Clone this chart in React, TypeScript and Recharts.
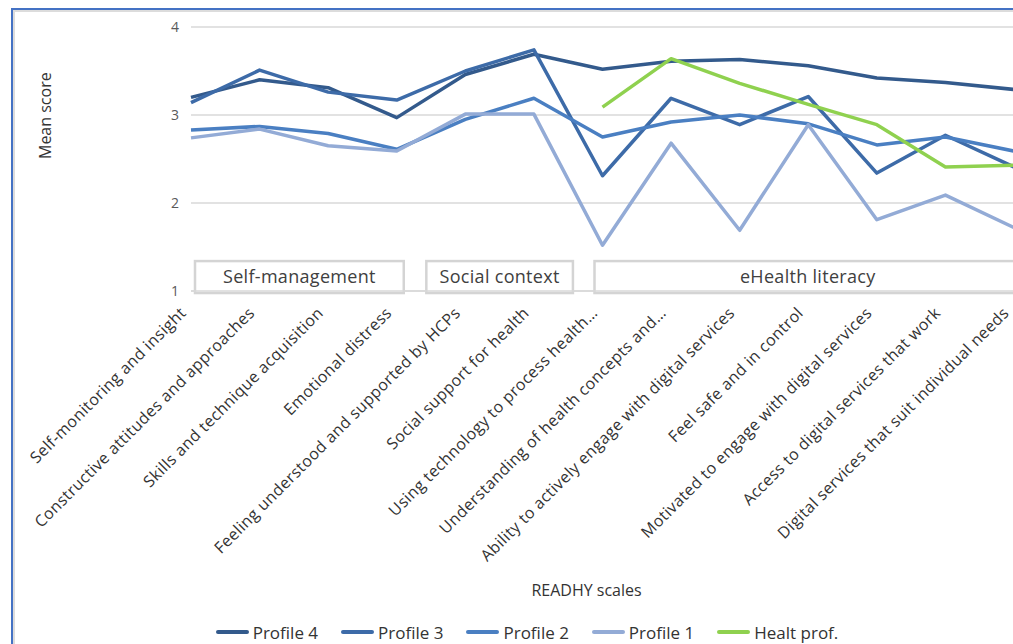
import { LineChart, Line, XAxis, YAxis, CartesianGrid, Legend, ReferenceArea } from 'recharts';

const SCALES = [
  'Self-monitoring and insight',
  'Constructive attitudes and approaches',
  'Skills and technique acquisition',
  'Emotional distress',
  'Feeling understood and supported by HCPs',
  'Social support for health',
  'Using technology to process health…',
  'Understanding of health concepts and…',
  'Ability to actively engage with digital services',
  'Feel safe and in control',
  'Motivated to engage with digital services',
  'Access to digital services that work',
  'Digital services that suit individual needs',
];

const PROFILE_4 = [3.2, 3.4, 3.31, 2.97, 3.46, 3.69, 3.52, 3.61, 3.63, 3.56, 3.42, 3.37, 3.29];
const PROFILE_3 = [3.14, 3.51, 3.26, 3.17, 3.5, 3.74, 2.31, 3.19, 2.89, 3.21, 2.34, 2.77, 2.41];
const PROFILE_2 = [2.83, 2.87, 2.79, 2.61, 2.95, 3.19, 2.75, 2.92, 3.0, 2.9, 2.66, 2.75, 2.59];
const PROFILE_1 = [2.74, 2.84, 2.65, 2.59, 3.01, 3.01, 1.52, 2.68, 1.69, 2.89, 1.81, 2.09, 1.72];
const HEALT_PROF = [null, null, null, null, null, null, 3.09, 3.64, 3.36, 3.12, 2.89, 2.41, 2.43];

const Y_TICKS = [1, 2, 3, 4];

const GROUPS = [
  { label: 'Self-management', from: 0, to: 3 },
  { label: 'Social context', from: 4, to: 5 },
  { label: 'eHealth literacy', from: 6, to: 12 },
];

// box edges relative to the first/last category point
const GROUP_PAD = [
  { l: 4, r: 7 },
  { l: -39, r: 39 },
  { l: -8, r: 7 },
];

const SERIES = [
  { key: 'Profile 4', color: '#335a8c' },
  { key: 'Profile 3', color: '#3d6ba8' },
  { key: 'Profile 2', color: '#4a7fc2' },
  { key: 'Profile 1', color: '#93abd6' },
  { key: 'Healt prof.', color: '#8fd14f' },
];

const data = SCALES.map((s, i) => ({
  scale: s,
  'Profile 4': PROFILE_4[i],
  'Profile 3': PROFILE_3[i],
  'Profile 2': PROFILE_2[i],
  'Profile 1': PROFILE_1[i],
  'Healt prof.': HEALT_PROF[i],
}));

const FONT = '"Open Sans", sans-serif';

function XTick({ x, y, payload }: any) {
  return (
    <text
      transform={`translate(${x - 4},${y + 21}) rotate(-45)`}
      textAnchor="end"
      fontSize={16}
      letterSpacing={0.4}
      fontFamily={FONT}
      fill="#333"
    >
      {payload.value}
    </text>
  );
}

function groupShape(idx: number) {
  return (props: any) => {
    const { x, y, width, height } = props;
    const p = GROUP_PAD[idx];
    const left = x + p.l;
    const right = x + width + p.r;
    return (
      <g>
        <rect x={left} y={y} width={right - left} height={height} fill="#fff" stroke="#d4d4d4" strokeWidth={2.5} />
        <text
          x={(left + right) / 2}
          y={y + height / 2 + 6}
          textAnchor="middle"
          fontSize={18}
          letterSpacing={0.3}
          fontFamily={FONT}
          fill="#404040"
        >
          {GROUPS[idx].label}
        </text>
      </g>
    );
  };
}

function LegendContent() {
  return (
    <div style={{ display: 'flex', justifyContent: 'center', gap: 23, height: 24, alignItems: 'center', paddingLeft: 6 }}>
      {SERIES.map(s => (
        <div key={s.key} style={{ display: 'flex', alignItems: 'center', gap: 4 }}>
          <span style={{ width: 33, height: 4, borderRadius: 2, background: s.color, display: 'inline-block' }} />
          <span style={{ fontSize: 17, color: '#333', fontFamily: FONT }}>{s.key}</span>
        </div>
      ))}
    </div>
  );
}

export default function App() {
  return (
    <div style={{ position: 'absolute', left: 0, top: 0, width: 1013, height: 644, overflow: 'hidden', background: '#fff' }}>
      <div style={{
        position: 'absolute', left: 11, top: 8, width: 1100, height: 700,
        borderLeft: '2px solid #4472c4', borderTop: '2px solid #4472c4',
        boxShadow: 'inset 2px 2px 0 #dcdcdc',
      }} />
      <div style={{ position: 'absolute', left: 0, top: 0 }}>
        <LineChart width={1062} height={644} data={data} margin={{ top: 27, right: 14, left: 0, bottom: 0 }}>
          <CartesianGrid horizontal vertical={false} stroke="#d9d9d9" strokeWidth={1.5} />
          <XAxis
            dataKey="scale"
            interval={0}
            height={329}
            padding={{ left: 0, right: 34 }}
            tick={<XTick />}
            tickLine={false}
            tickSize={0}
            axisLine={{ stroke: '#d9d9d9', strokeWidth: 1.5 }}
            label={{ value: 'READHY scales', position: 'insideBottom', offset: 24, dx: -33, fontSize: 16, fill: '#333', fontFamily: FONT }}
          />
          <YAxis
            width={191}
            domain={[1, 4]}
            ticks={Y_TICKS}
            axisLine={false}
            tickLine={false}
            tickSize={0}
            tickMargin={12}
            tick={{ fontSize: 14, fill: '#595959', fontFamily: FONT }}
            label={{ value: 'Mean score', angle: -90, position: 'insideLeft', offset: 45, fontSize: 16, fill: '#333', fontFamily: FONT }}
          />
          {GROUPS.map((g, i) => (
            <ReferenceArea
              key={g.label}
              x1={SCALES[g.from]}
              x2={SCALES[g.to]}
              y1={0.977}
              y2={1.34}
              ifOverflow="visible"
              shape={groupShape(i)}
            />
          ))}
          <Legend verticalAlign="bottom" content={<LegendContent />} />
          {SERIES.map(s => (
            <Line
              key={s.key}
              type="linear"
              dataKey={s.key}
              stroke={s.color}
              strokeWidth={3.5}
              dot={false}
              activeDot={false}
              isAnimationActive={false}
              strokeLinejoin="round"
            />
          ))}
        </LineChart>
      </div>
    </div>
  );
}
